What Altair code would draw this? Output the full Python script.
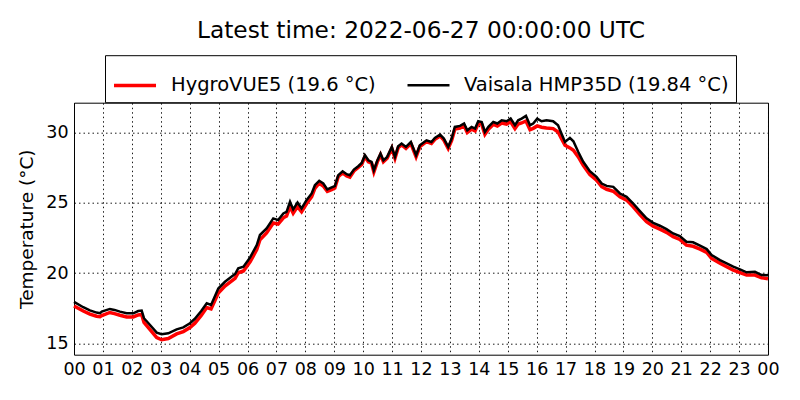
import altair as alt
import pandas as pd

hours = [0.00, 0.32, 0.55, 0.78, 0.90, 0.96, 1.24, 1.40, 1.59, 1.82, 2.05, 2.22, 2.34, 2.42, 2.63, 2.86,
         3.03, 3.26, 3.55, 3.78, 4.01, 4.18, 4.40, 4.59, 4.74, 4.99, 5.22, 5.57, 5.68, 5.86, 6.09, 6.32,
         6.43, 6.66, 6.89, 7.06, 7.24, 7.35, 7.47, 7.58, 7.73, 7.87, 8.04, 8.22, 8.33, 8.48, 8.62, 8.76,
         8.91, 9.02, 9.14, 9.29, 9.43, 9.54, 9.68, 9.83, 9.95, 10.06, 10.18, 10.29, 10.37, 10.49, 10.60,
         10.70, 10.83, 10.99, 11.10, 11.21, 11.33, 11.48, 11.65, 11.83, 11.96, 12.19, 12.36, 12.48, 12.66,
         12.79, 12.94, 13.06, 13.17, 13.35, 13.49, 13.60, 13.75, 13.87, 13.98, 14.10, 14.21, 14.33, 14.50,
         14.64, 14.79, 14.96, 15.10, 15.25, 15.36, 15.48, 15.63, 15.77, 15.88, 16.02, 16.17, 16.34, 16.57,
         16.74, 16.86, 16.98, 17.15, 17.27, 17.44, 17.61, 17.84, 18.07, 18.25, 18.42, 18.65, 18.88, 19.11,
         19.34, 19.57, 19.80, 20.03, 20.26, 20.49, 20.72, 20.95, 21.18, 21.41, 21.65, 21.88, 22.05, 22.34,
         22.57, 22.80, 23.03, 23.26, 23.55, 23.78, 24.00]

hmp35d = [17.95, 17.57, 17.35, 17.19, 17.15, 17.26, 17.45, 17.38, 17.26, 17.14, 17.14, 17.30, 17.33, 16.79,
          16.31, 15.77, 15.65, 15.72, 16.00, 16.14, 16.43, 16.75, 17.30, 17.85, 17.73, 18.90, 19.38, 19.93,
          20.33, 20.45, 21.11, 21.99, 22.70, 23.17, 23.88, 23.76, 24.23, 24.35, 25.06, 24.52, 25.01, 24.59,
          25.18, 25.65, 26.24, 26.55, 26.36, 25.94, 26.08, 26.17, 26.95, 27.23, 27.02, 26.95, 27.35, 27.59,
          27.82, 28.37, 28.01, 27.90, 27.30, 28.00, 28.49, 28.00, 28.25, 28.96, 28.25, 29.00, 29.20, 28.96,
          29.31, 28.37, 29.08, 29.43, 29.31, 29.60, 29.84, 29.55, 28.96, 29.55, 30.38, 30.45, 30.62, 30.14,
          30.38, 30.26, 30.78, 30.73, 30.02, 30.38, 30.73, 30.62, 30.85, 30.78, 30.97, 30.50, 30.85, 30.97,
          31.16, 30.50, 30.62, 30.97, 30.78, 30.85, 30.78, 30.50, 29.90, 29.31, 29.60, 29.36, 28.60, 27.90,
          27.23, 26.83, 26.36, 26.19, 26.12, 25.65, 25.41, 24.94, 24.40, 23.88, 23.57, 23.36, 23.12, 22.81,
          22.62, 22.22, 22.18, 21.94, 21.70, 21.28, 20.92, 20.69, 20.45, 20.26, 20.05, 20.09, 19.86, 19.84]

hygrovue5 = [17.66, 17.30, 17.08, 16.93, 16.90, 16.98, 17.20, 17.12, 17.00, 16.88, 16.88, 17.02, 17.06, 16.50,
             15.98, 15.42, 15.26, 15.35, 15.68, 15.84, 16.13, 16.44, 16.98, 17.55, 17.45, 18.58, 19.08, 19.62,
             20.02, 20.15, 20.80, 21.66, 22.36, 22.85, 23.56, 23.48, 23.92, 24.05, 24.72, 24.25, 24.72, 24.35,
             24.92, 25.42, 26.02, 26.38, 26.18, 25.80, 25.93, 26.04, 26.85, 27.12, 26.90, 26.82, 27.25, 27.50,
             27.72, 28.27, 27.90, 27.80, 27.18, 27.90, 28.40, 27.90, 28.15, 28.86, 28.15, 28.90, 29.10, 28.86,
             29.20, 28.26, 28.98, 29.33, 29.20, 29.50, 29.74, 29.44, 28.85, 29.42, 30.22, 30.30, 30.46, 29.98,
             30.22, 30.10, 30.62, 30.56, 29.86, 30.22, 30.56, 30.44, 30.66, 30.58, 30.75, 30.26, 30.58, 30.66,
             30.80, 30.18, 30.28, 30.45, 30.36, 30.31, 30.26, 30.02, 29.55, 29.08, 28.89, 28.72, 28.25, 27.66,
             27.00, 26.60, 26.13, 25.95, 25.81, 25.41, 25.18, 24.70, 24.16, 23.65, 23.33, 23.12, 22.89, 22.58,
             22.39, 21.98, 21.90, 21.70, 21.47, 21.04, 20.69, 20.45, 20.21, 20.03, 19.86, 19.86, 19.67, 19.60]

series_names = ["HygroVUE5 (19.6 °C)", "Vaisala HMP35D (19.84 °C)"]
series_colors = ["#ff0000", "#000000"]
hour_ticks = list(range(0, 25))
temp_ticks = [15, 20, 25, 30]

df = pd.concat([
    pd.DataFrame({"hour": hours, "temp": hygrovue5, "sensor": series_names[0], "order": 0}),
    pd.DataFrame({"hour": hours, "temp": hmp35d, "sensor": series_names[1], "order": 1}),
])

FONT = "DejaVu Sans"

color = alt.Color(
    "sensor:N",
    scale=alt.Scale(domain=series_names, range=series_colors),
    legend=alt.Legend(
        title=None, orient="none", direction="horizontal",
        legendX=31, legendY=-47.5,
        symbolType="stroke", symbolSize=1764, symbolStrokeWidth=3,
        labelFont=FONT, labelFontSize=19.5, labelColor="black", labelLimit=500,
        labelOffset=13, columnPadding=26, padding=7,
        strokeColor="black", fillColor="white",
    ),
)

chart = alt.Chart(df).mark_line().encode(
    x=alt.X("hour:Q", scale=alt.Scale(domain=[0, 24], nice=False),
            axis=alt.Axis(values=hour_ticks, title=None, labelOverlap=False, labelBound=False, labelFlush=False,
                          labelExpr="datum.value == 24 ? '00' : (datum.value < 10 ? '0' + datum.value : '' + datum.value)")),
    y=alt.Y("temp:Q", scale=alt.Scale(domain=[14.2, 32.1], nice=False, zero=False),
            axis=alt.Axis(values=temp_ticks, title="Temperature (°C)", titlePadding=9, labelFlush=False)),
    color=color,
    strokeWidth=alt.StrokeWidth("sensor:N", scale=alt.Scale(domain=series_names, range=[3.5, 2.5]), legend=None),
    order=alt.Order("order:Q"),
    detail="sensor:N",
).properties(
    width=694, height=252,
    title=alt.TitleParams("Latest time: 2022-06-27 00:00:00 UTC", font=FONT, fontSize=23.3,
                          fontWeight="normal", color="black", offset=11, anchor="middle"),
    autosize=alt.AutoSizeParams(type="none"),
    padding={"left": 66, "top": 94.7, "right": 24, "bottom": 30},
).configure_view(
    stroke="black", strokeWidth=1
).configure_axis(
    labelFont=FONT, labelFontSize=17.5, labelColor="black",
    titleFont=FONT, titleFontSize=18.5, titleFontWeight="normal", titleColor="black",
    grid=True, gridColor="black", gridDash=[1.5, 3], gridWidth=1, gridOpacity=0.9,
    domain=False, ticks=False, labelPadding=6,
)

chart.save("out.html", embed_options={"renderer": "svg", "actions": False})
